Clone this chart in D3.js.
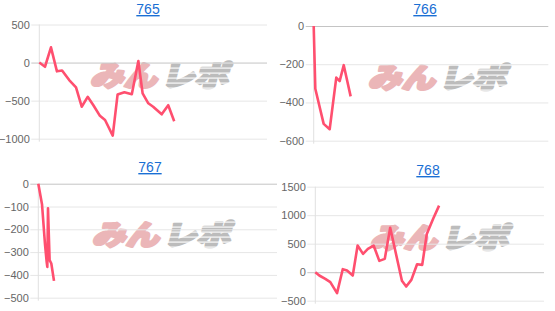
<!DOCTYPE html>
<html>
<head>
<meta charset="utf-8">
<script src="https://cdn.jsdelivr.net/npm/d3@7"></script>
<style>
  html, body { margin: 0; padding: 0; background: #fff; }
  svg { display: block; }
</style>
</head>
<body>
<div id="chart"></div>
<script>

// Data (games played vs. coin difference)
const titles = ["765", "766", "767", "768"];

const games765 = [0, 200, 410, 620, 800, 1050, 1290, 1490, 1700, 1900, 2130, 2310, 2580, 2750, 2990, 3250, 3480, 3630, 3830, 4000, 4300, 4530, 4740];
const diff765  = [0, -55, 200, -115, -105, -230, -325, -580, -450, -560, -700, -755, -960, -420, -390, -415, 20, -405, -535, -580, -680, -560, -770];

const games766 = [0, 55, 340, 545, 770, 885, 1025, 1260];
const diff766  = [0, -328, -512, -540, -270, -288, -205, -368];

const games767 = [0, 124, 224, 278, 302, 325, 379, 436, 526];
const diff767  = [0, -90, -265, -340, -365, -108, -335, -350, -426];

const games768 = [0, 140, 350, 525, 760, 960, 1110, 1310, 1480, 1670, 1840, 2040, 2240, 2430, 2620, 3030, 3180, 3360, 3560, 3740, 3900, 4130, 4330];
const diff768  = [0, -58, -117, -175, -368, 53, 29, -58, 468, 322, 409, 468, 199, 234, 780, -150, -252, -135, 140, 128, 670, 947, 1168];

const yTicks765 = [-1000, -500, 0, 500];
const yTicks766 = [-600, -400, -200, 0];
const yTicks767 = [-500, -400, -300, -200, -100, 0];
const yTicks768 = [-500, 0, 500, 1000, 1500];

const maxGames = 8000;

const series = [
  { games: games765, diff: diff765, ticks: yTicks765 },
  { games: games766, diff: diff766, ticks: yTicks766 },
  { games: games767, diff: diff767, ticks: yTicks767 },
  { games: games768, diff: diff768, ticks: yTicks768 }
];

// Panel geometry
const panels = [
  { x0: 39.3,  x1: 267,   y0: 24.5,  y1: 138.7, tx: 148, ty: 14,  wx: 162, wy: 74 },
  { x0: 313.7, x1: 548.3, y0: 26,    y1: 140.7, tx: 425, ty: 14,  wx: 440, wy: 76 },
  { x0: 38.3,  x1: 277,   y0: 183.7, y1: 297.7, tx: 150, ty: 172, wx: 164, wy: 233 },
  { x0: 315.3, x1: 544,   y0: 186.7, y1: 300.7, tx: 428, ty: 175, wx: 442, wy: 236 }
];

const width = 555;
const height = 311;

const svg = d3.select("#chart")
  .append("svg")
    .attr("width", width)
    .attr("height", height);

// striped fill for the grey half of the watermark
const pattern = svg.append("defs")
  .append("pattern")
    .attr("id", "stripes")
    .attr("patternUnits", "userSpaceOnUse")
    .attr("width", 20)
    .attr("height", 5);
pattern.append("rect")
  .attr("width", 20).attr("height", 5)
  .attr("fill", "#bcbcbc");
pattern.append("rect")
  .attr("y", 3.6).attr("width", 20).attr("height", 1.1)
  .attr("fill", "#fff");

series.forEach((s, i) => {
  const p = panels[i];

  const x = d3.scaleLinear()
    .domain([0, maxGames])
    .range([p.x0, p.x1]);

  const y = d3.scaleLinear()
    .domain(d3.extent(s.ticks))
    .range([p.y1, p.y0]);

  const g = svg.append("g");

  // Watermark
  const wm = g.append("g")
    .attr("transform", `translate(${p.wx}, ${p.wy}) skewX(-14)`)
    .style("font-family", "'Noto Sans CJK JP', sans-serif")
    .style("font-weight", 900)
    .style("font-size", "28px");
  wm.append("text")
    .attr("x", -69)
    .attr("y", 0)
    .attr("dominant-baseline", "central")
    .attr("textLength", 67)
    .attr("lengthAdjust", "spacingAndGlyphs")
    .attr("fill", "#ebb6b8")
    .attr("stroke", "#ebb6b8")
    .attr("stroke-width", 2.6)
    .attr("stroke-linejoin", "round")
    .text("みん");
  wm.append("text")
    .attr("x", 2)
    .attr("y", 0)
    .attr("dominant-baseline", "central")
    .attr("textLength", 67)
    .attr("lengthAdjust", "spacingAndGlyphs")
    .attr("fill", "url(#stripes)")
    .attr("stroke", "url(#stripes)")
    .attr("stroke-width", 2.6)
    .attr("stroke-linejoin", "round")
    .text("レポ");

  // Y axis with grid
  const axis = g.append("g")
    .attr("transform", `translate(${p.x0}, 0)`)
    .call(d3.axisLeft(y)
      .tickValues(s.ticks)
      .tickSize(-(p.x1 - p.x0))
      .tickPadding(9.5)
      .tickFormat(d3.format("d")));

  axis.select(".domain").remove();
  axis.selectAll(".tick line")
    .attr("x1", -8)
    .attr("stroke", d => d === 0 ? "#c4c4c4" : "#e6e6e6");
  axis.selectAll(".tick text")
    .attr("fill", "#666")
    .style("font-family", "'Liberation Sans', Arial, sans-serif")
    .style("font-size", "11px");

  g.append("line")
    .attr("x1", p.x0).attr("x2", p.x0)
    .attr("y1", p.y0).attr("y2", p.y1 + 3)
    .attr("stroke", "#e0e0e0");

  // Line
  const line = d3.line()
    .x(d => x(d[0]))
    .y(d => y(d[1]));

  g.append("path")
    .datum(d3.zip(s.games, s.diff))
    .attr("fill", "none")
    .attr("stroke", "#ff4f6f")
    .attr("stroke-width", 2.6)
    .attr("stroke-linejoin", "round")
    .attr("d", line);

  // Title
  g.append("text")
    .attr("x", p.tx)
    .attr("y", p.ty)
    .attr("text-anchor", "middle")
    .attr("fill", "#1a6fd4")
    .style("font-family", "'Liberation Sans', Arial, sans-serif")
    .style("font-size", "14px")
    .style("text-decoration", "underline")
    .text(titles[i]);
});

</script>
</body>
</html>
